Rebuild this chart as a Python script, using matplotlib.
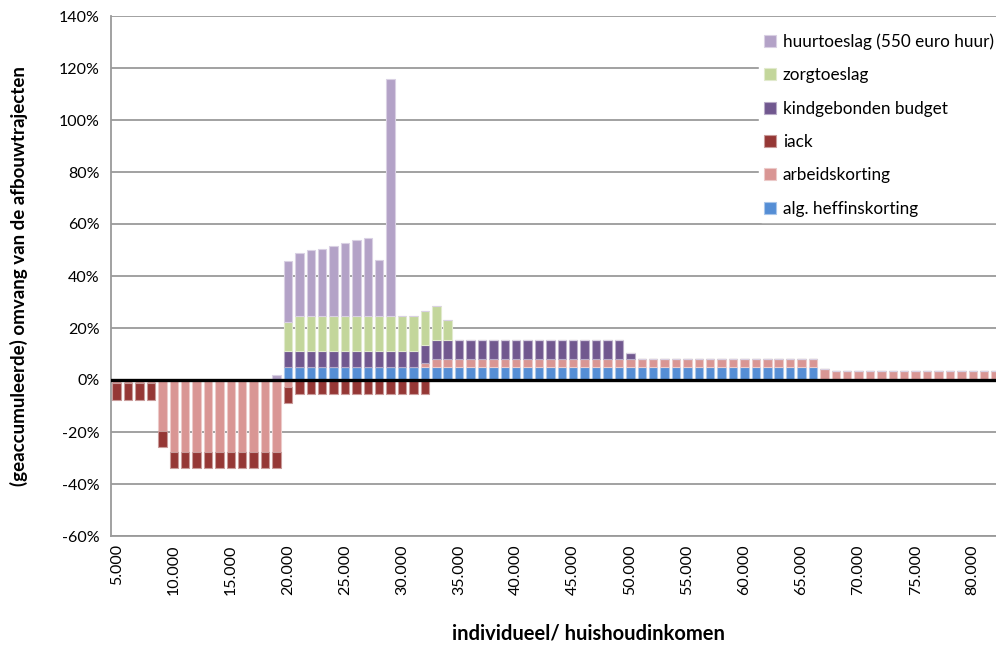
import matplotlib
matplotlib.use("Agg")
import matplotlib.pyplot as plt
import numpy as np

plt.rcParams['font.family'] = ['Lato', 'DejaVu Sans']

# categories: income 5.000 .. 82.000 in steps of 1.000
incomes = list(range(5000, 83000, 1000))
n = len(incomes)

def series(pairs):
    """pairs: list of (start_income, end_income, value) -> list aligned with incomes"""
    out = [0.0] * n
    for a, b, v in pairs:
        for i, inc in enumerate(incomes):
            if a <= inc <= b:
                out[i] = v
    return out

alg_heffinskorting = series([(20000, 66000, 5.1)])
arbeidskorting = series([(5000, 8000, -1.2), (9000, 9000, -19.6), (10000, 19000, -27.8),
                         (20000, 20000, -2.8), (32000, 32000, 1.5), (33000, 66000, 3.1),
                         (67000, 67000, 4.2), (68000, 82000, 3.5)])
iack = series([(5000, 8000, -6.5), (9000, 9000, -6.2), (10000, 19000, -6.0),
               (20000, 20000, -6.0), (21000, 32000, -5.5)])
kindgebonden_budget = series([(20000, 31000, 6.2), (32000, 49000, 7.0), (50000, 50000, 2.2)])
zorgtoeslag = series([(20000, 20000, 11.2), (21000, 31000, 13.3), (32000, 33000, 13.1),
                      (34000, 34000, 7.7)])
huurtoeslag = series([(19000, 19000, 1.8)])
huur_vals = {20000: 23.2, 21000: 24.4, 22000: 25.4, 23000: 25.9, 24000: 27.0,
             25000: 28.1, 26000: 29.1, 27000: 30.2, 28000: 21.6, 29000: 91.3}
for k, v in huur_vals.items():
    huurtoeslag[incomes.index(k)] = v

series_names = ['alg. heffinskorting', 'arbeidskorting', 'iack',
                'kindgebonden budget', 'zorgtoeslag', 'huurtoeslag (550 euro huur)']
series_values = [alg_heffinskorting, arbeidskorting, iack,
                 kindgebonden_budget, zorgtoeslag, huurtoeslag]
colors = ['#558ED5', '#D99694', '#953735', '#71588F', '#C3D69B', '#B3A2C7']
edges = ['#A9C6EA', '#ECCAC9', '#C99B9A', '#B8ABC7', '#E1EACD', '#D9D0E3']

fig = plt.figure(figsize=(9.96, 6.45), dpi=100)
ax = fig.add_axes([111 / 996, (645 - 536) / 645, 1 - 111 / 996, (536 - 16) / 645])

x = np.arange(n)
pos_bottom = np.zeros(n)
neg_bottom = np.zeros(n)
handles = []
for name, vals, c, e in zip(series_names, series_values, colors, edges):
    v = np.array(vals) / 100.0
    bottom = np.where(v >= 0, pos_bottom, neg_bottom)
    h = ax.bar(x, v, width=0.74, bottom=bottom, color=c, edgecolor=e,
               linewidth=0.8, label=name, zorder=3)
    handles.append(h)
    pos_bottom += np.where(v > 0, v, 0)
    neg_bottom += np.where(v < 0, v, 0)

ax.set_ylim(-0.6, 1.4)
ax.set_yticks(np.arange(-0.6, 1.41, 0.2))
ax.set_yticklabels([f'{int(round(t * 100))}%' for t in np.arange(-0.6, 1.41, 0.2)],
                   fontsize=11.5)
ax.set_xlim(-0.5, (996 - 117) / 11.41)
tick_idx = [i for i, inc in enumerate(incomes) if inc % 5000 == 0]
ax.set_xticks(tick_idx)
ax.set_xticklabels([f'{incomes[i] // 1000}.000' for i in tick_idx], rotation=90,
                   fontsize=11.5)
ax.tick_params(axis='both', length=0, pad=8)
ax.tick_params(axis='x', pad=6)

ax.grid(axis='y', color='#9A9A9A', linewidth=1.3, zorder=0)
ax.set_axisbelow(True)
for s in ['top', 'right']:
    ax.spines[s].set_visible(False)
ax.spines['left'].set_color('#9A9A9A')
ax.spines['left'].set_linewidth(1.3)
ax.spines['bottom'].set_color('#9A9A9A')
ax.spines['bottom'].set_linewidth(1.3)
ax.axhline(0, color='black', linewidth=2.4, zorder=4)

ax.set_ylabel('(geaccumuleerde) omvang van de afbouwtrajecten', fontsize=13.5,
              fontweight='bold')
ax.yaxis.set_label_coords(-(111 - 28) / (996 - 111), 0.5)
fig.text(588 / 996, 1 - 634 / 645, 'individueel/ huishoudinkomen',
         ha='center', va='center', fontsize=14.5, fontweight='bold')

leg = ax.legend(handles[::-1], series_names[::-1], loc='upper left',
                bbox_to_anchor=(759 / 996, 1 - 28 / 645), bbox_transform=fig.transFigure,
                frameon=True, fontsize=12.3, handlelength=0.7, handleheight=0.7,
                handletextpad=0.4, labelspacing=1.02, borderpad=0.3, borderaxespad=0)
leg.get_frame().set_facecolor('white')
leg.get_frame().set_edgecolor('white')
leg.get_frame().set_alpha(1)
leg.set_zorder(5)

fig.savefig('out.png', dpi=100)
